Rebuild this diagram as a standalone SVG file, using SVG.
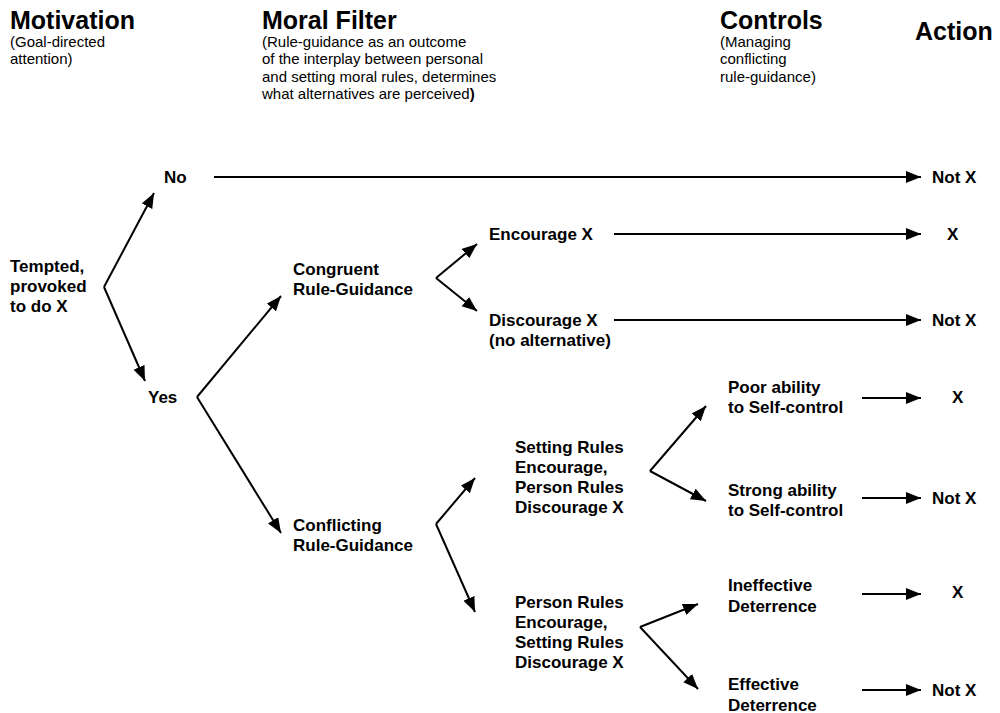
<svg xmlns="http://www.w3.org/2000/svg" width="1000" height="713" viewBox="0 0 1000 713">
<defs>
<marker id="ah" markerUnits="userSpaceOnUse" markerWidth="16" markerHeight="13" refX="15" refY="6" orient="auto">
<path d="M0,0 L15,6 L0,12 Z" fill="#000"/>
</marker>
<style>
.t{font-family:"Liberation Sans",Arial,sans-serif;font-weight:bold;font-size:25px;fill:#000}
.s{font-family:"Liberation Sans",Arial,sans-serif;font-size:15px;fill:#000}
.n{font-family:"Liberation Sans",Arial,sans-serif;font-weight:bold;font-size:17px;fill:#000}
.c{stroke:#000;stroke-width:2;fill:none;marker-end:url(#ah)}
</style>
</defs>
<rect width="1000" height="713" fill="#fff"/>
<g id="headers">
<text class="t" x="10" y="29">Motivation</text>
<text class="s" x="10" y="47">(Goal-directed</text>
<text class="s" x="10" y="64">attention)</text>
<text class="t" x="262" y="29">Moral Filter</text>
<text class="s" x="262" y="47">(Rule-guidance as an outcome</text>
<text class="s" x="262" y="64">of the interplay between personal</text>
<text class="s" x="262" y="82">and setting moral rules, determines</text>
<text class="s" x="262" y="99">what alternatives are perceived<tspan font-weight="bold">)</tspan></text>
<text class="t" x="720" y="29">Controls</text>
<text class="s" x="720" y="47">(Managing</text>
<text class="s" x="720" y="64">conflicting</text>
<text class="s" x="720" y="82">rule-guidance)</text>
<text class="t" x="915" y="40">Action</text>
</g>
<g id="connectors">
<path class="c" d="M214,177 L921,177"/>
<path class="c" d="M104,287 L154,193"/>
<path class="c" d="M104,287 L145,381"/>
<path class="c" d="M197,397 L281,296"/>
<path class="c" d="M197,397 L281,533"/>
<path class="c" d="M436,278 L477,244"/>
<path class="c" d="M436,278 L477,311"/>
<path class="c" d="M614,234 L921,234"/>
<path class="c" d="M614,320 L921,320"/>
<path class="c" d="M436,524 L475,478"/>
<path class="c" d="M436,524 L475,612"/>
<path class="c" d="M650,471 L706,406"/>
<path class="c" d="M650,471 L706,501"/>
<path class="c" d="M862,398 L921,398"/>
<path class="c" d="M862,498 L921,498"/>
<path class="c" d="M640,627 L698,604"/>
<path class="c" d="M640,627 L698,689"/>
<path class="c" d="M862,594 L921,594"/>
<path class="c" d="M862,690 L921,690"/>
</g>
<g id="tempted"><text class="n" x="10" y="272">Tempted,</text><text class="n" x="10" y="292">provoked</text><text class="n" x="10" y="312">to do X</text></g>
<g id="no"><text class="n" x="164" y="183">No</text></g>
<g id="yes"><text class="n" x="148" y="403">Yes</text></g>
<g id="congruent"><text class="n" x="293" y="275">Congruent</text><text class="n" x="293" y="295">Rule-Guidance</text></g>
<g id="conflicting"><text class="n" x="293" y="531">Conflicting</text><text class="n" x="293" y="551">Rule-Guidance</text></g>
<g id="encourage"><text class="n" x="489" y="240">Encourage X</text></g>
<g id="discourage"><text class="n" x="489" y="326">Discourage X</text><text class="n" x="489" y="346">(no alternative)</text></g>
<g id="setting"><text class="n" x="515" y="453">Setting Rules</text><text class="n" x="515" y="473">Encourage,</text><text class="n" x="515" y="493">Person Rules</text><text class="n" x="515" y="513">Discourage X</text></g>
<g id="person"><text class="n" x="515" y="608">Person Rules</text><text class="n" x="515" y="628">Encourage,</text><text class="n" x="515" y="648">Setting Rules</text><text class="n" x="515" y="668">Discourage X</text></g>
<g id="poor"><text class="n" x="728" y="393">Poor ability</text><text class="n" x="728" y="413">to Self-control</text></g>
<g id="strong"><text class="n" x="728" y="496">Strong ability</text><text class="n" x="728" y="516">to Self-control</text></g>
<g id="ineffective"><text class="n" x="728" y="591">Ineffective</text><text class="n" x="728" y="612">Deterrence</text></g>
<g id="effective"><text class="n" x="728" y="690">Effective</text><text class="n" x="728" y="711">Deterrence</text></g>
<g id="act-no"><text class="n" x="932" y="183">Not X</text></g>
<g id="act-enc"><text class="n" x="947" y="240">X</text></g>
<g id="act-dis"><text class="n" x="932" y="326">Not X</text></g>
<g id="act-poor"><text class="n" x="952" y="403">X</text></g>
<g id="act-strong"><text class="n" x="932" y="504">Not X</text></g>
<g id="act-ineff"><text class="n" x="952" y="598">X</text></g>
<g id="act-eff"><text class="n" x="932" y="696">Not X</text></g>
</svg>
